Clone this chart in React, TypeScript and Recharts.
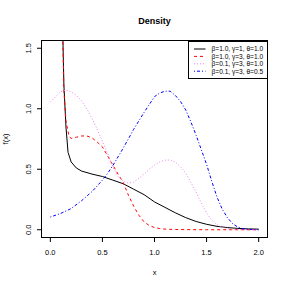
import React from 'react';
import { LineChart, Line, XAxis, YAxis } from 'recharts';

const xTicks = [0, 0.5, 1, 1.5, 2];
const yTicks = [0, 0.5, 1, 1.5];

const blackX = [0.05, 0.1, 0.12, 0.13, 0.15, 0.17, 0.2, 0.25, 0.3, 0.4, 0.5, 0.6, 0.7, 0.8, 0.9, 1.0, 1.1, 1.2, 1.3, 1.4, 1.5, 1.6, 1.7, 1.8, 1.9, 2.0];
const blackY = [8, 2.6, 1.6, 1.2, 0.85, 0.64, 0.56, 0.51, 0.485, 0.46, 0.44, 0.41, 0.38, 0.335, 0.29, 0.23, 0.185, 0.14, 0.1, 0.068, 0.045, 0.028, 0.018, 0.011, 0.007, 0.005];

const redX = [0.05, 0.1, 0.12, 0.13, 0.15, 0.18, 0.2, 0.25, 0.3, 0.35, 0.4, 0.45, 0.5, 0.55, 0.6, 0.65, 0.7, 0.75, 0.8, 0.85, 0.9, 0.95, 1.0, 1.05, 1.1, 1.2, 1.3, 1.5, 2.0];
const redY = [8, 2.6, 1.6, 1.15, 0.9, 0.77, 0.755, 0.765, 0.775, 0.775, 0.76, 0.725, 0.685, 0.61, 0.535, 0.46, 0.39, 0.285, 0.195, 0.12, 0.065, 0.035, 0.018, 0.01, 0.005, 0.002, 0.001, 0, 0];

const pinkX = [0, 0.05, 0.1, 0.15, 0.2, 0.25, 0.3, 0.35, 0.4, 0.45, 0.5, 0.55, 0.6, 0.65, 0.7, 0.75, 0.8, 0.85, 0.9, 0.95, 1.0, 1.05, 1.1, 1.15, 1.2, 1.25, 1.3, 1.35, 1.4, 1.45, 1.5, 1.55, 1.6, 1.65, 1.7, 1.75, 1.8, 1.9, 2.0];
const pinkY = [1.055, 1.1, 1.14, 1.155, 1.14, 1.11, 1.065, 1.0, 0.92, 0.83, 0.73, 0.63, 0.52, 0.44, 0.4, 0.385, 0.395, 0.425, 0.46, 0.5, 0.535, 0.56, 0.575, 0.577, 0.56, 0.52, 0.47, 0.39, 0.31, 0.22, 0.14, 0.08, 0.04, 0.02, 0.01, 0.005, 0.002, 0, 0];

const blueX = [0, 0.1, 0.2, 0.3, 0.4, 0.5, 0.55, 0.6, 0.7, 0.8, 0.9, 1.0, 1.05, 1.1, 1.15, 1.2, 1.25, 1.3, 1.35, 1.4, 1.45, 1.5, 1.55, 1.6, 1.65, 1.7, 1.75, 1.8, 1.85, 1.9, 1.95, 2.0];
const blueY = [0.105, 0.135, 0.175, 0.24, 0.315, 0.41, 0.466, 0.53, 0.675, 0.83, 0.97, 1.1, 1.13, 1.145, 1.145, 1.11, 1.06, 0.99, 0.89, 0.78, 0.66, 0.54, 0.4, 0.27, 0.17, 0.1, 0.05, 0.022, 0.008, 0.003, 0.001, 0];

const labels = ['β=1.0, γ=1, θ=1.0', 'β=1.0, γ=3, θ=1.0', 'β=0.1, γ=3, θ=1.0', 'β=0.1, γ=3, θ=0.5'];

const zip = (xs: number[], ys: number[]) => xs.map((x, i) => ({ x, y: ys[i] }));

const series = [
  { name: labels[0], data: zip(blackX, blackY), color: '#000000', dash: undefined as string | undefined },
  { name: labels[1], data: zip(redX, redY), color: '#ff0000', dash: '3 3' },
  { name: labels[2], data: zip(pinkX, pinkY), color: '#ee82ee', dash: '1 2' },
  { name: labels[3], data: zip(blueX, blueY), color: '#0000ff', dash: '1 2 3 2' },
];

const FONT = '"Liberation Sans", Arial, Helvetica, sans-serif';

const YTick = (props: any) => {
  const { x, y, payload } = props;
  return (
    <text
      transform={`translate(${x - 4},${y}) rotate(-90)`}
      textAnchor="middle"
      fontSize={7.5}
      fontFamily={FONT}
      fill="#000"
    >
      {Number(payload.value).toFixed(1)}
    </text>
  );
};

const LegendBox = ({ x, y }: { x: number; y: number }) => (
  <g transform={`translate(${x},${y})`}>
    <rect x={0.5} y={0.5} width={79} height={37} fill="#fff" stroke="#000" strokeWidth={1} />
    {series.map((s, i) => {
      const cy = 8 + i * 7.4;
      return (
        <g key={s.name}>
          <line x1={6} x2={17.5} y1={cy} y2={cy} stroke={s.color} strokeWidth={1} strokeDasharray={s.dash} />
          <text x={23.5} y={cy + 2.3} fontSize={6.6} fontFamily={FONT} fill="#000">
            {s.name}
          </text>
        </g>
      );
    })}
  </g>
);

export default function App() {
  return (
    <div style={{ position: 'absolute', left: 0, top: 0, width: 288, height: 288, background: '#fff' }}>
      <LineChart width={288} height={288} margin={{ top: 41, right: 21, bottom: 21, left: 10 }}>
        <XAxis
          dataKey="x"
          type="number"
          domain={[-0.08, 2.08]}
          ticks={xTicks}
          allowDataOverflow
          axisLine={false}
          tickLine={{ stroke: '#000' }}
          tickSize={5}
          tickMargin={8}
          height={30}
          tick={{ fontSize: 7.5, fontFamily: FONT, fill: '#000' }}
          tickFormatter={(v: number) => v.toFixed(1)}
        />
        <YAxis
          type="number"
          domain={[-0.06, 1.56]}
          ticks={yTicks}
          allowDataOverflow
          axisLine={false}
          tickLine={{ stroke: '#000' }}
          tickSize={5}
          tickMargin={2}
          width={32}
          tick={<YTick />}
        />
        {series.map((s) => (
          <Line
            key={s.name}
            data={s.data}
            dataKey="y"
            name={s.name}
            type="linear"
            stroke={s.color}
            strokeWidth={1}
            strokeDasharray={s.dash}
            dot={false}
            isAnimationActive={false}
          />
        ))}
        <rect x={41.5} y={40.5} width={226} height={197} fill="none" stroke="#000" strokeWidth={1} />
        <LegendBox x={188} y={41} />
        <text x={154.5} y={24} textAnchor="middle" fontSize={9} fontWeight="bold" fontFamily={FONT} fill="#000">
          Density
        </text>
        <text x={154.5} y={275} textAnchor="middle" fontSize={7.5} fontFamily={FONT} fill="#000">
          x
        </text>
        <text transform="translate(8,139) rotate(-90)" textAnchor="middle" fontSize={7.5} fontFamily={FONT} fill="#000">
          f(x)
        </text>
      </LineChart>
    </div>
  );
}
